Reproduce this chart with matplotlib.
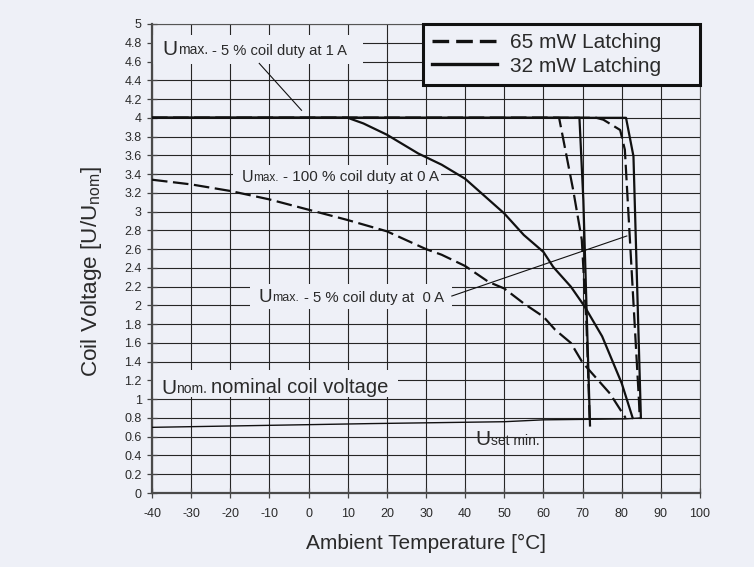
import matplotlib
matplotlib.use('Agg')
import matplotlib.pyplot as plt
from matplotlib.lines import Line2D
from matplotlib.patches import Rectangle
import matplotlib.ticker as ticker

plt.rcParams['font.family'] = ['Liberation Sans', 'DejaVu Sans']
plt.rcParams['axes.unicode_minus'] = False

BG = '#eef0f7'
INK = '#111111'
TXT = '#2a2a2a'

# data
x_ticks = [-40, -30, -20, -10, 0, 10, 20, 30, 40, 50, 60, 70, 80, 90, 100]
y_ticks = [0, 0.2, 0.4, 0.6, 0.8, 1, 1.2, 1.4, 1.6, 1.8, 2, 2.2, 2.4, 2.6, 2.8,
           3, 3.2, 3.4, 3.6, 3.8, 4, 4.2, 4.4, 4.6, 4.8, 5]

# 65 mW latching (dashed)
t65_100 = [-40, -30, -20, -10, 0, 10, 20, 30, 34, 40, 46, 50, 55, 60, 63, 67, 70, 77, 81]
v65_100 = [3.34, 3.29, 3.22, 3.13, 3.02, 2.91, 2.79, 2.60, 2.54, 2.42, 2.25, 2.18,
           2.02, 1.88, 1.74, 1.60, 1.39, 1.06, 0.80]
t65_1a = [-40, 64, 67.6, 69.8, 71.0, 71.8]
v65_1a = [4.0, 4.0, 3.23, 2.70, 1.80, 0.80]
t65_0a = [-40, 73.5, 75.3, 79.6, 80.8, 84.4, 84.6]
v65_0a = [4.0, 4.0, 3.98, 3.87, 3.66, 0.99, 0.80]

# 32 mW latching (solid)
t32_100 = [-40, 10, 14, 20, 28, 34, 40, 50, 55, 60, 62.5, 67, 70.5, 75, 80, 82.8]
v32_100 = [4.0, 4.0, 3.94, 3.82, 3.62, 3.50, 3.35, 2.98, 2.75, 2.57, 2.41, 2.20,
           1.99, 1.67, 1.17, 0.80]
t32_1a = [-40, 69.2, 70.2, 71.9]
v32_1a = [4.0, 4.0, 3.12, 0.72]
t32_0a = [-40, 81.1, 83.0, 84.9]
v32_0a = [4.0, 4.0, 3.59, 0.80]

# U set min.
t_set = [-40, 16, 50, 60, 80.8, 84.9]
v_set = [0.70, 0.74, 0.76, 0.78, 0.79, 0.80]

fig = plt.figure(figsize=(7.54, 5.67), dpi=100, facecolor=BG)
ax = fig.add_axes([152 / 754, 1 - 493 / 567, 548 / 754, 469 / 567])
ax.set_facecolor(BG)
ax.set_xlim(-40, 100)
ax.set_ylim(0, 5)
ax.set_axisbelow(True)
ax.grid(True, color='#262626', lw=0.8)

ax.set_xticks(x_ticks)
ax.set_yticks(y_ticks)
ax.yaxis.set_major_formatter(ticker.FuncFormatter(lambda v, p: f'{round(v, 1):g}'))
ax.tick_params(direction='inout', length=7, width=0.9, colors='#444444',
               labelcolor=TXT, labelsize=9)
ax.tick_params(axis='x', pad=7)
ax.tick_params(axis='y', pad=4)
for s in ['left', 'bottom']:
    ax.spines[s].set_color('#4a4a4a')
    ax.spines[s].set_linewidth(1.6)
for s in ['top', 'right']:
    ax.spines[s].set_color('#555555')
    ax.spines[s].set_linewidth(0.8)

# boxes that hide the grid behind the labels
boxes = [(-40, 4.57, 53.9, 0.31), (-19.3, 3.23, 53.1, 0.27),
         (-15.0, 1.96, 51.6, 0.27), (-40, 1.02, 62.9, 0.29)]
for bx, by, bw, bh in boxes:
    ax.add_patch(Rectangle((bx, by), bw, bh, facecolor=BG, edgecolor='none', zorder=1.5))

dash = (7, 2.5)
lw = 1.6
ax.plot(t65_100, v65_100, color=INK, lw=lw, dashes=dash, zorder=3)
ax.plot(t65_1a, v65_1a, color=INK, lw=lw, dashes=dash, zorder=3)
ax.plot(t65_0a, v65_0a, color=INK, lw=lw, dashes=dash, zorder=3)
ax.plot(t32_100, v32_100, color=INK, lw=lw, zorder=3)
ax.plot(t32_1a, v32_1a, color=INK, lw=lw, zorder=3)
ax.plot(t32_0a, v32_0a, color=INK, lw=lw, zorder=3)
ax.plot(t_set, v_set, color=INK, lw=1.0, zorder=3)

# pointer lines
ax.plot([-12.6, -1.8], [4.58, 4.08], color=INK, lw=0.8, zorder=3)
ax.plot([36.6, 81.3], [2.10, 2.74], color=INK, lw=0.8, zorder=3)


def rich_text(x, y, pieces):
    # pieces: (text, size, gap) placed on one baseline
    s0, z0, _ = pieces[0]
    prev = ax.text(x, y, s0, fontsize=z0, color=TXT, va='baseline', ha='left', zorder=4)
    prev_size = z0
    for s, z, gap in pieces[1:]:
        prev = ax.annotate(s, xy=(1, 0), xycoords=prev,
                           xytext=(gap, 0.21 * (prev_size - z)), textcoords='offset points',
                           fontsize=z, color=TXT, va='bottom', ha='left', zorder=4)
        prev_size = z


rich_text(-37.3, 4.67, [('U', 15, 0), ('max.', 10, 0), ('- 5 % coil duty at 1 A', 10.6, 3)])
rich_text(-17.1, 3.32, [('U', 11.5, 0), ('max.', 8.5, 0), ('- 100 % coil duty at 0 A', 11, 3)])
rich_text(-12.7, 2.04, [('U', 13.5, 0), ('max.', 9, 0), ('- 5 % coil duty at  0 A', 10.7, 3)])
rich_text(-37.7, 1.06, [('U', 15, 0), ('nom.', 10, 0), ('nominal coil voltage', 14.5, 3)])
rich_text(42.7, 0.51, [('U', 15, 0), ('set min.', 10, 0)])

ax.set_xlabel('Ambient Temperature [°C]', fontsize=15, color=TXT, labelpad=10)
ax.set_ylabel(r'Coil Voltage [U/U$_{\mathregular{nom}}$]', fontsize=16.2, color=TXT)
ax.yaxis.set_label_coords(-0.087, 0.471)

handles = [Line2D([], [], color=INK, lw=2.4, dashes=(5, 2.1)),
           Line2D([], [], color=INK, lw=2.4)]
leg = ax.legend(handles, ['65 mW Latching', '32 mW Latching'], loc='upper right',
                bbox_to_anchor=(0.4945, 0, 0.5055, 1.0), mode='expand',
                fontsize=15, frameon=True, fancybox=False, borderaxespad=0,
                handlelength=3.1, handletextpad=0.62, borderpad=0.45, labelspacing=0.2,
                facecolor=BG, edgecolor='#111111', framealpha=1)
leg.get_frame().set_linewidth(2.2)
leg.set_zorder(6)
for t in leg.get_texts():
    t.set_color(TXT)

fig.savefig('out.png', dpi=100, facecolor=BG)
